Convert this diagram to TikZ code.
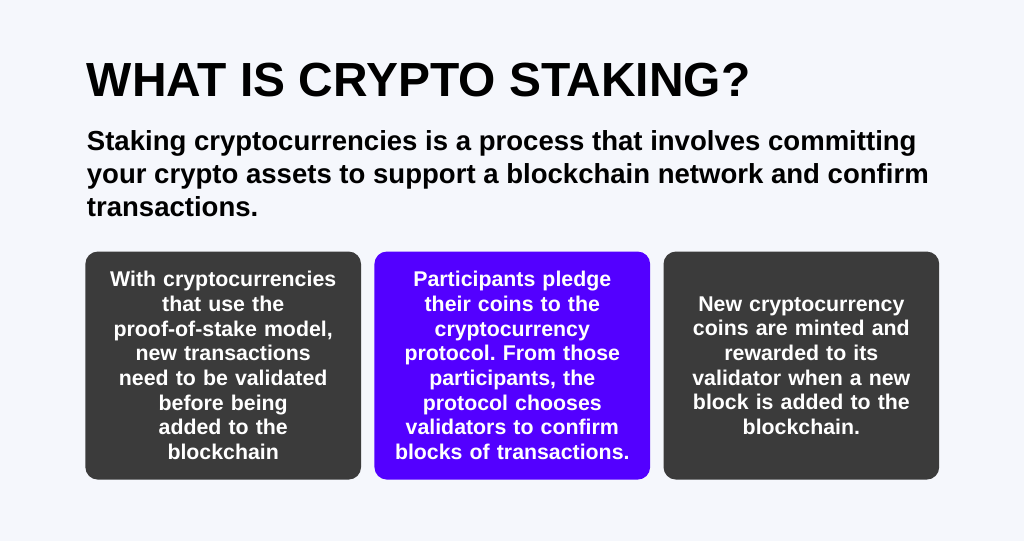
\documentclass[tikz,border=0pt]{standalone}
\usepackage{fontspec}
\setmainfont{Liberation Sans}
\frenchspacing
\definecolor{pagebg}{HTML}{F5F7FC}
\definecolor{cardgray}{HTML}{3B3B3B}
\definecolor{cardviolet}{HTML}{5300FF}
\tikzset{
  card/.style={rounded corners=9pt, minimum width=7.0cm, minimum height=5.79cm, anchor=north west,
    text=white, text width=6.4cm, align=center, font=\bfseries\fontsize{15.4}{17.8}\selectfont, inner sep=0pt},
  lead/.style={anchor=base west, inner sep=0pt, font=\bfseries\fontsize{19.9}{24}\selectfont},
}
\begin{document}
\begin{tikzpicture}[x=1cm,y=1cm]
  \fill[pagebg] (0,0) rectangle (26.0,13.74);
  \useasboundingbox (0,0) rectangle (26.0,13.74);
  \node[anchor=base west, inner sep=0pt, font=\bfseries\fontsize{34.6}{40}\selectfont] (title) at (2.2,11.28) {WHAT IS CRYPTO STAKING?};
  \node[lead] (line1) at (2.2,9.93) {Staking cryptocurrencies is a process that involves committing};
  \node[lead] (line2) at (2.2,9.09) {your crypto assets to support a blockchain network and confirm};
  \node[lead] (line3) at (2.2,8.25) {transactions.};
  \node[card, fill=cardgray] (left) at (2.16,7.36) {With cryptocurrencies\\that use the\\proof-of-stake model,\\new transactions\\need to be validated\\before being\\added to the\\blockchain};
  \node[card, fill=cardviolet] (middle) at (9.5,7.36) {Participants pledge\\their coins to the\\cryptocurrency\\protocol. From those\\participants, the\\protocol chooses\\validators to confirm\\blocks of transactions.};
  \node[card, fill=cardgray] (right) at (16.84,7.36) {New cryptocurrency\\coins are minted and\\rewarded to its\\validator when a new\\block is added to the\\blockchain.};
\end{tikzpicture}
\end{document}
